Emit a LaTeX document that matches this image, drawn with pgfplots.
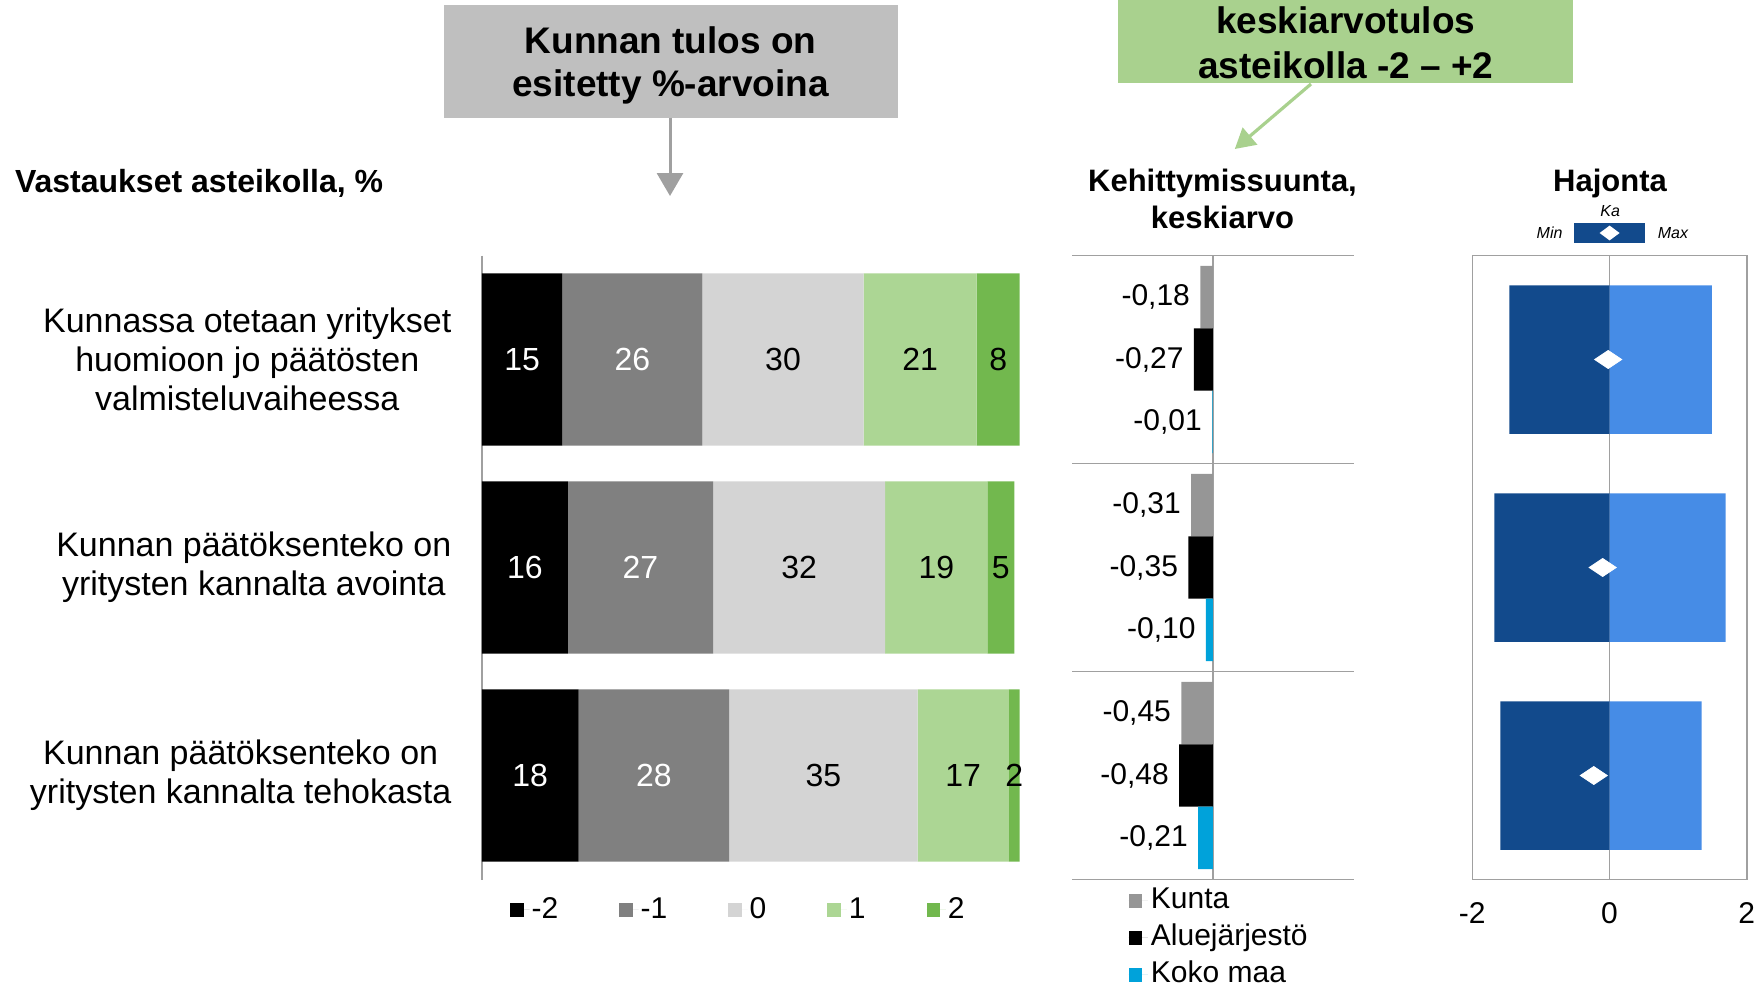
\documentclass[border=0pt]{standalone}
\usepackage{pgfplots}
\pgfplotsset{compat=1.18}
\usepackage{pgfplotstable}
\usepackage{fontspec}
\setmainfont{Liberation Sans}
\usetikzlibrary{arrows.meta}

\definecolor{cM2}{RGB}{0,0,0}
\definecolor{cM1}{RGB}{128,128,128}
\definecolor{cZ}{RGB}{212,212,212}
\definecolor{cP1}{RGB}{172,214,148}
\definecolor{cP2}{RGB}{114,184,78}
\definecolor{cKunta}{RGB}{150,150,150}
\definecolor{cKoko}{RGB}{0,162,218}
\definecolor{cDark}{RGB}{18,74,140}
\definecolor{cLight}{RGB}{70,140,230}
\definecolor{boxgray}{RGB}{191,191,191}
\definecolor{boxgreen}{RGB}{169,209,142}
\definecolor{linegray}{RGB}{160,160,160}

\pgfplotstableread{
y m2 m1 z p1 p2
1 15 26 30 21 8
2 16 27 32 19 5
3 18 28 35 17 2
}\resp

\pgfplotstableread{
y x lab
0.7 -0.18 -0,18
1.7 -0.31 -0,31
2.7 -0.45 -0,45
}\kunta
\pgfplotstableread{
y x lab
1 -0.27 -0,27
2 -0.35 -0,35
3 -0.48 -0,48
}\alue
\pgfplotstableread{
y x lab
1.3 -0.01 -0,01
2.3 -0.10 -0,10
3.3 -0.21 -0,21
}\koko
\pgfplotstableread{
y min ka max
1 -1.46 -0.02 1.49
2 -1.68 -0.10 1.69
3 -1.59 -0.23 1.34
}\hajonta

\newcommand{\fs}[2]{\fontsize{#1}{#2}\selectfont}

\begin{document}
\begin{tikzpicture}
\path[use as bounding box] (0,0) rectangle (878.5pt,-492.5pt);

% ---------- headers ----------
\node[anchor=west, inner sep=0pt, font=\bfseries\fs{16}{19}] at (7.3pt,-91.7pt) {Vastaukset asteikolla, \%};
\fill[boxgray] (221.85pt,-2.25pt) rectangle (448.75pt,-58.85pt);
\node[align=center, font=\bfseries\fs{18.5}{21.9}] at (335.3pt,-32.7pt) {Kunnan tulos on\\esitetty \%-arvoina};
\draw[draw=linegray, line width=1.5pt, -{Triangle[width=13pt,length=11.5pt]}] (335pt,-58.85pt) -- (335pt,-98pt);

\fill[boxgreen] (559.15pt,5pt) rectangle (786.6pt,-41.5pt);
\node[align=center, font=\bfseries\fs{18.5}{22.4}] at (672.9pt,-21.3pt) {keskiarvotulos\\asteikolla -2 – +2};
\draw[draw=boxgreen, line width=1.6pt, -{Triangle[width=11pt,length=10pt]}] (655.5pt,-42pt) -- (617.4pt,-74.5pt);

\node[align=center, font=\bfseries\fs{15.5}{18.5}] at (611.25pt,-99.25pt) {Kehittymissuunta,\\keskiarvo};
\node[font=\bfseries\fs{15.5}{18.5}] at (805pt,-91.5pt) {Hajonta};

\node[font=\itshape\fs{8}{9.6}] at (805.1pt,-105.3pt) {Ka};
\fill[cDark] (787.15pt,-111.5pt) rectangle (822.45pt,-121.55pt);
\fill[white] (804.8pt,-112.8pt) -- (809.8pt,-116.5pt) -- (804.8pt,-120.2pt) -- (799.8pt,-116.5pt) -- cycle;
\node[font=\itshape\fs{8}{9.6}] at (774.8pt,-116.5pt) {Min};
\node[font=\itshape\fs{8}{9.6}] at (836.5pt,-116.5pt) {Max};

% ---------- panel 1: stacked bars ----------
\begin{axis}[
  at={(240.9pt,-127.75pt)}, anchor=north west,
  scale only axis, width=268.95pt, height=312pt,
  xbar stacked, bar width=0.828,
  xmin=0, xmax=100, ymin=0.5, ymax=3.5, y dir=reverse,
  axis x line=none, axis y line*=left,
  y axis line style={draw=linegray, line width=0.8pt, -},
  xtick=\empty, ytick={1,2,3},
  yticklabels={{Kunnassa otetaan yritykset\\huomioon jo päätösten\\valmisteluvaiheessa},{Kunnan päätöksenteko on\\yritysten kannalta avointa},{Kunnan päätöksenteko on\\yritysten kannalta tehokasta}},
  yticklabel style={align=center, font=\fs{17}{19.6}, inner sep=0pt, xshift=-15pt},
  major tick length=0pt,
  point meta=explicit symbolic,
  nodes near coords,
  every node near coord/.append style={font=\fs{16}{19}, anchor=center},
  clip=false,
  legend columns=5,
  legend image code/.code={\fill[#1,draw=none] (0pt,-3.35pt) rectangle (6.7pt,3.35pt); \path (0pt,0pt) -- (9.7pt,0pt);},
  legend style={at={(0,0)}, anchor=west, xshift=14pt, yshift=-15.2pt, draw=none, fill=none, inner sep=0pt, font=\fs{15}{18}, nodes={inner sep=1pt}, /tikz/every even column/.append style={column sep=29.5pt}},
  legend entries={-2,-1,0,1,2},
]
\addplot[fill=cM2, draw=none, every node near coord/.append style={text=white}] table[x=m2, y=y, meta=m2] {\resp};
\addplot[fill=cM1, draw=none, every node near coord/.append style={text=white}] table[x=m1, y=y, meta=m1] {\resp};
\addplot[fill=cZ, draw=none, every node near coord/.append style={text=black}] table[x=z, y=y, meta=z] {\resp};
\addplot[fill=cP1, draw=none, every node near coord/.append style={text=black}] table[x=p1, y=y, meta=p1] {\resp};
\addplot[fill=cP2, draw=none, every node near coord/.append style={text=black}] table[x=p2, y=y, meta=p2] {\resp};
\end{axis}

% ---------- panel 2: means ----------
\begin{axis}[
  at={(536.15pt,-127.75pt)}, anchor=north west,
  scale only axis, width=140.65pt, height=312pt,
  xbar, bar width=0.3, bar shift=0pt,
  xmin=-2, xmax=2, ymin=0.5, ymax=3.5, y dir=reverse,
  axis line style={draw=none},
  xtick={0}, xticklabels={}, xmajorgrids,
  ytick={0.5,1.5,2.5,3.5}, yticklabels={}, ymajorgrids,
  grid style={draw=linegray, line width=0.8pt},
  major tick length=0pt,
  point meta=explicit symbolic, nodes near coords,
  every node near coord/.append style={font=\fs{15}{18}, anchor=east, inner sep=0pt, xshift=-5pt},
  clip=false,
  legend image code/.code={\fill[#1,draw=none] (0pt,-3.35pt) rectangle (6.7pt,3.35pt); \path (0pt,0pt) -- (9.7pt,0pt);},
  legend cell align=left,
  legend style={at={(0,0)}, anchor=north west, xshift=27.9pt, yshift=-1.75pt, draw=none, fill=none, inner sep=0pt, font=\fs{15}{18}, row sep=1pt, nodes={inner sep=1.5pt, text height=11pt, text depth=3.5pt}},
  legend entries={Kunta, Aluejärjestö, Koko maa},
]
\addplot[fill=cKunta, draw=none] table[x=x, y=y, meta=lab] {\kunta};
\addplot[fill=cM2, draw=none] table[x=x, y=y, meta=lab] {\alue};
\addplot[fill=cKoko, draw=none] table[x=x, y=y, meta=lab] {\koko};
\end{axis}

% ---------- panel 3: spread ----------
\begin{axis}[
  at={(736.15pt,-127.75pt)}, anchor=north west,
  scale only axis, width=137.25pt, height=312pt,
  bar width=0.714,
  xmin=-2, xmax=2, ymin=0.5, ymax=3.5, y dir=reverse,
  axis line style={draw=linegray, line width=0.8pt},
  xtick={-2,0,2}, xticklabels={-2,0,2}, xmajorgrids,
  grid style={draw=linegray, line width=0.8pt},
  ytick=\empty, major tick length=0pt,
  xticklabel style={font=\fs{15}{18}, anchor=base, yshift=-22pt},
]
\addplot[xbar, bar shift=0pt, fill=cDark, draw=none] table[x=min, y=y] {\hajonta};
\addplot[xbar, bar shift=0pt, fill=cLight, draw=none] table[x=max, y=y] {\hajonta};
\addplot[only marks, mark=diamond*, mark size=4.5pt, mark options={fill=white, draw=white, xscale=2}] table[x=ka, y=y] {\hajonta};
\end{axis}
\end{tikzpicture}
\end{document}
